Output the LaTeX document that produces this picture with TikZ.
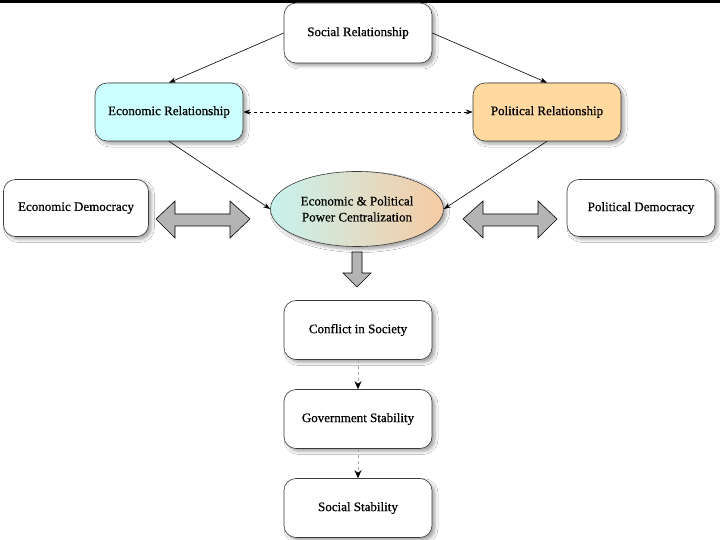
\documentclass[tikz,border=0pt]{standalone}
\usepackage{fontspec}
\setmainfont{Liberation Serif}
\newfontfamily\diagfont{Liberation Serif}[FakeBold=0.7]
\usetikzlibrary{arrows.meta,shadows.blur,shapes.geometric}
\definecolor{econfill}{HTML}{CCFFFF}
\definecolor{polfill}{HTML}{FFD9A0}
\definecolor{ellleft}{HTML}{C8F2EE}
\definecolor{ellmid}{HTML}{E8E6CF}
\definecolor{ellright}{HTML}{F6CBA4}
\definecolor{boxline}{HTML}{3A3A3A}
\definecolor{blockfill}{HTML}{B4B4B4}
\tikzset{
  boxbase/.style={draw=boxline, line width=0.6pt, rounded corners=12pt,
    minimum width=148pt, minimum height=59pt, align=center,
    font=\diagfont\fontsize{13}{15}\selectfont,
    blur shadow={shadow xshift=3pt, shadow yshift=-3pt, shadow blur radius=3pt, shadow opacity=35}},
  plainbox/.style={boxbase, fill=white},
  econbox/.style={boxbase, fill=econfill},
  polbox/.style={boxbase, fill=polfill},
  conn/.style={draw=black, line width=0.6pt, -{Stealth[length=7pt,width=5pt]}},
  dconn/.style={draw=black, line width=0.7pt, dashed, {Stealth[length=7pt,width=5pt]}-{Stealth[length=7pt,width=5pt]}},
  gconn/.style={draw=gray!70, line width=0.8pt, dashed, -{Stealth[length=8pt,width=7pt,black]}},
  blockarrow/.style={draw=black, line width=0.6pt, fill=blockfill}
}
\begin{document}
\begin{tikzpicture}[x=1pt,y=-1pt]
\useasboundingbox (0,0) rectangle (720,540);
\fill[white] (0,0) rectangle (720,540);
\fill[black] (0,0) rectangle (720,3);

\node[plainbox, minimum height=60pt] (social) at (358,33) {Social Relationship};
\node[econbox, minimum height=58pt] (econ) at (169,112) {Economic Relationship};
\node[polbox, minimum height=58pt] (pol) at (547,112) {Political Relationship};
\node[ellipse, draw=boxline, line width=0.6pt, minimum width=173pt, minimum height=75pt,
      left color=ellleft, middle color=ellmid, right color=ellright, align=center,
      font=\diagfont\fontsize{13}{16}\selectfont,
      blur shadow={shadow xshift=3pt, shadow yshift=-3pt, shadow blur radius=3pt, shadow opacity=35}]
      (central) at (357,209) {Economic \& Political\\Power Centralization};
\node[plainbox, minimum width=145pt, minimum height=57pt] (edem) at (76,208) {Economic Democracy};
\node[plainbox, minimum width=148pt, minimum height=57pt] (pdem) at (641,208) {Political Democracy};
\node[plainbox] (conflict) at (358,330) {Conflict in Society};
\node[plainbox] (gov) at (358,419) {Government Stability};
\node[plainbox] (sstab) at (358,508) {Social Stability};

% connectors
\draw[conn] (social.west) -- (econ.north);
\draw[conn] (social.east) -- (pol.north);
\draw[conn] (econ.south) -- (central.west);
\draw[conn] (pol.south) -- (central.east);
\draw[dconn] (econ.east) -- (pol.west);
\draw[gconn] (conflict.south) -- (gov.north);
\draw[gconn] (gov.south) -- (sstab.north);

% block arrows
\draw[blockarrow] (156,219) -- (175,201) -- (175,214) -- (230,214) -- (230,201) -- (250,219)
  -- (230,238) -- (230,226) -- (175,226) -- (175,238) -- cycle;
\draw[blockarrow] (463,219) -- (483,201) -- (483,214) -- (538,214) -- (538,201) -- (557,219)
  -- (538,238) -- (538,226) -- (483,226) -- (483,238) -- cycle;
\draw[blockarrow] (352,252) -- (362,252) -- (362,273) -- (371,273) -- (357,287) -- (343,273)
  -- (352,273) -- cycle;
\end{tikzpicture}
\end{document}
